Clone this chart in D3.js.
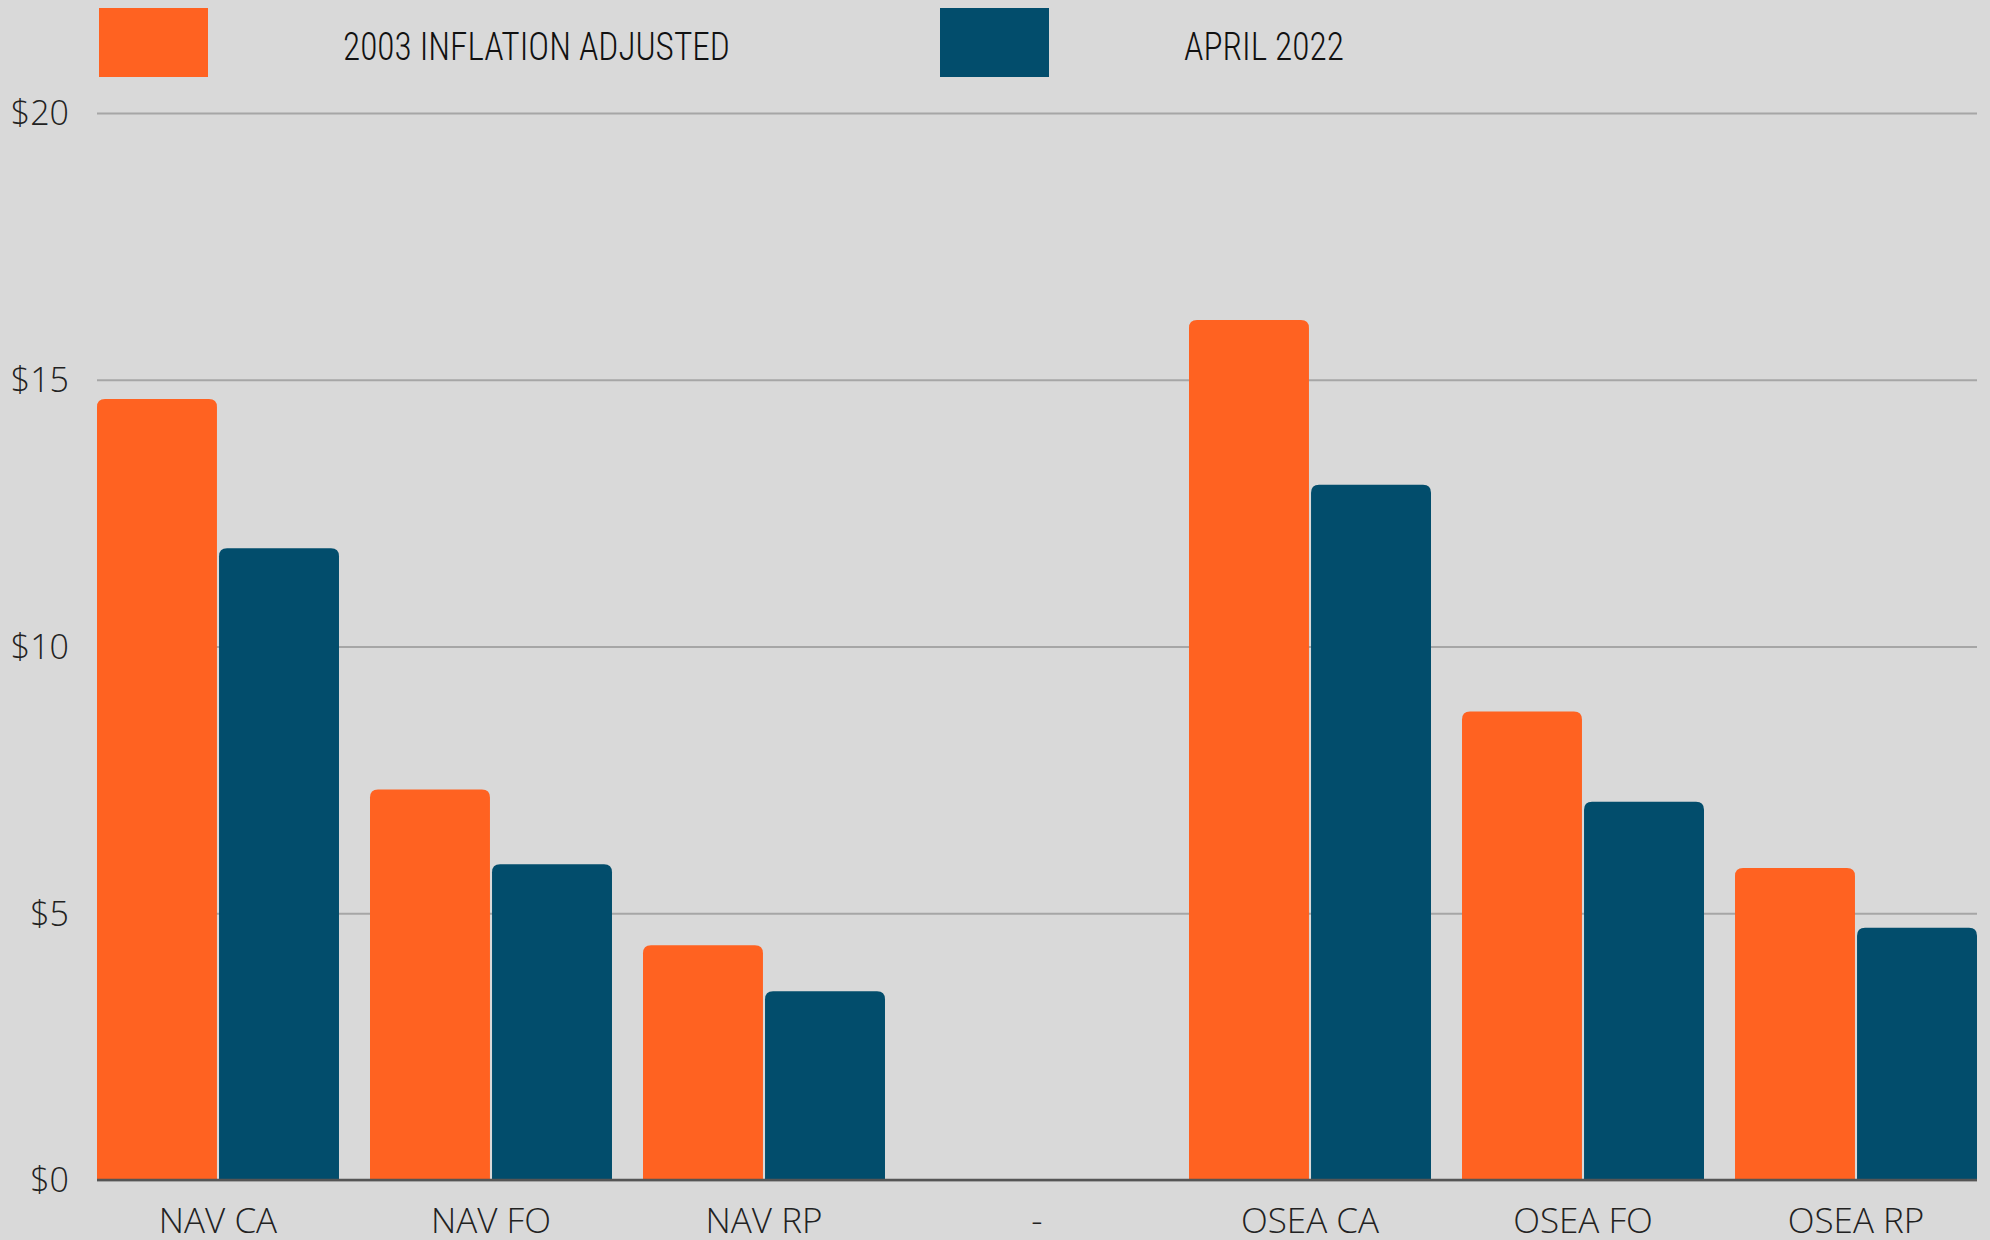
<!DOCTYPE html>
<meta charset="utf-8">
<head>
  <title>D3</title>
  <style>
    body { margin: 0; background: #d9d9d9; }
    .tick text, .cat text { font-family: "Open Sans", sans-serif; font-weight: 300; fill: #222; }
    .legend text { font-family: "Roboto Condensed", "Liberation Sans Narrow", "DejaVu Sans Condensed", Roboto, sans-serif; font-weight: 300; fill: #111; }
  </style>
  <script src="https://d3js.org/d3.v7.min.js"></script>
</head>
<body>
  <svg width="1990" height="1240"></svg>
  <script>
var categories = ['NAV CA', 'NAV FO', 'NAV RP', '-', 'OSEA CA', 'OSEA FO', 'OSEA RP'];
var series = ['2003 INFLATION ADJUSTED', 'APRIL 2022'];
var inflation2003 = [14.64, 7.32, 4.40, null, 16.12, 8.78, 5.85];
var april2022 = [11.84, 5.92, 3.54, null, 13.03, 7.09, 4.73];
var yTicks = [0, 5, 10, 15, 20];
var colors = ['#ff6221', '#024d6c'];

var svg = d3.select('svg');
var plotL = 97, plotR = 1977, plotT = 113, plotB = 1180;

var x = d3.scaleBand().domain(categories).range([plotL, plotR]).paddingInner(0.1136).paddingOuter(0);
var xs = d3.scaleBand().domain(series).range([0, x.bandwidth()]).paddingInner(0.017);
var y = d3.scaleLinear().domain([0, 20]).range([plotB, plotT]);

svg.append('rect').attr('width', 1990).attr('height', 1240).attr('fill', '#d9d9d9');

// grid + y labels
var yAxis = svg.append('g')
  .attr('transform', 'translate(' + plotL + ',0)')
  .call(d3.axisLeft(y).tickValues(yTicks).tickSize(-(plotR - plotL)).tickPadding(28).tickFormat(function(d) { return '$' + d; }));
yAxis.select('.domain').remove();
yAxis.selectAll('.tick line').attr('stroke', '#a6a6a6').attr('stroke-width', 2);
yAxis.selectAll('.tick text').attr('font-size', 34).attr('dy', '0.35em');

function barPath(x0, w, y0, y1, r) {
  r = Math.min(r, (y1 - y0), w / 2);
  return 'M' + x0 + ',' + y1 + 'V' + (y0 + r) + 'Q' + x0 + ',' + y0 + ' ' + (x0 + r) + ',' + y0 +
    'H' + (x0 + w - r) + 'Q' + (x0 + w) + ',' + y0 + ' ' + (x0 + w) + ',' + (y0 + r) + 'V' + y1 + 'Z';
}

var rows = categories.map(function(c, i) { return { cat: c, vals: [inflation2003[i], april2022[i]] }; });

var groups = svg.append('g').selectAll('g').data(rows).enter().append('g')
  .attr('transform', function(d) { return 'translate(' + x(d.cat) + ',0)'; });

groups.selectAll('path').data(function(d) {
  return d.vals.map(function(v, j) { return { s: series[j], v: v, j: j }; }).filter(function(e) { return e.v != null; });
}).enter().append('path')
  .attr('fill', function(d) { return colors[d.j]; })
  .attr('d', function(d) { return barPath(xs(d.s), xs.bandwidth(), y(d.v), y(0), 8); });

// baseline
svg.append('line').attr('x1', plotL).attr('x2', plotR).attr('y1', y(0)).attr('y2', y(0))
  .attr('stroke', '#555').attr('stroke-width', 2.5);

// category labels
svg.append('g').attr('class', 'cat').selectAll('text').data(categories).enter().append('text')
  .attr('x', function(d) { return x(d) + x.bandwidth() / 2; })
  .attr('y', 1233)
  .attr('text-anchor', 'middle')
  .attr('font-size', 35)
  .text(function(d) { return d; });

// legend
var legX = [99, 940], legTextX = [343, 1184], legTextW = [387, 160];
var leg = svg.append('g').attr('class', 'legend');
series.forEach(function(s, i) {
  leg.append('rect').attr('x', legX[i]).attr('y', 8).attr('width', 109).attr('height', 69).attr('fill', colors[i]);
  leg.append('text').attr('x', legTextX[i]).attr('y', 60).attr('font-size', 38)
    .attr('textLength', legTextW[i]).attr('lengthAdjust', 'spacingAndGlyphs').text(s);
});
  </script>
</body>
</html>
